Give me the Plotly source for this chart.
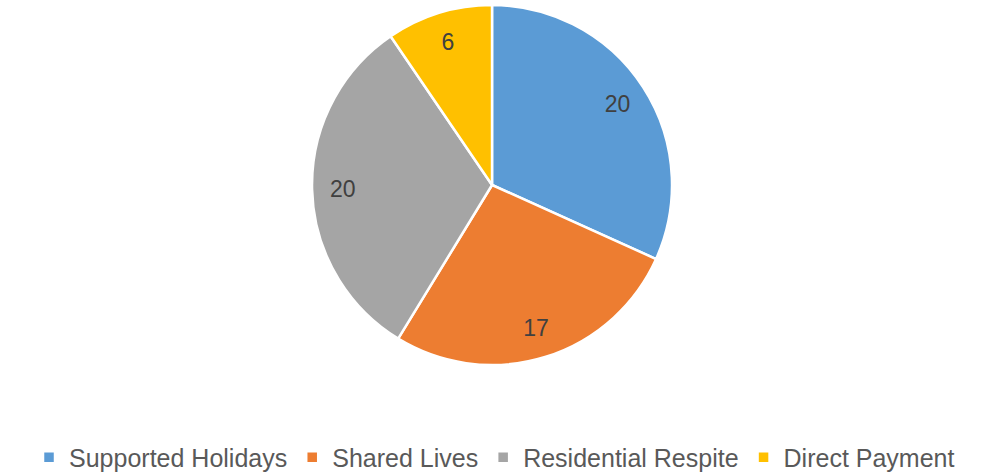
import plotly.graph_objects as go

categories = ["Supported Holidays", "Shared Lives", "Residential Respite", "Direct Payment"]
values = [20, 17, 20, 6]
colors = ["#5B9BD5", "#ED7D31", "#A5A5A5", "#FFC000"]

pie_domain = dict(x=[0.3136, 0.6754], y=[0.2283, 0.9894])

# Main pie (slices + legend)
fig = go.Figure(go.Pie(
    labels=categories,
    values=values,
    sort=False,
    direction="clockwise",
    rotation=0,
    marker=dict(colors=colors, line=dict(color="white", width=2.5)),
    textinfo="none",
    domain=pie_domain,
    hoverinfo="label+value",
))

# Transparent ring overlay used only to place the data labels near the rim
fig.add_trace(go.Pie(
    labels=categories,
    values=values,
    sort=False,
    direction="clockwise",
    rotation=0,
    hole=0.66,
    marker=dict(colors=["rgba(0,0,0,0)"] * len(values), line=dict(width=0)),
    textinfo="value",
    textposition="inside",
    insidetextorientation="horizontal",
    textfont=dict(family="Liberation Sans", size=23, color="#404040"),
    domain=pie_domain,
    showlegend=False,
    hoverinfo="skip",
))

fig.update_layout(
    width=995, height=473,
    margin=dict(l=0, r=0, t=0, b=0, autoexpand=False),
    paper_bgcolor="white",
    showlegend=True,
    legend=dict(
        orientation="h", x=0.497, xanchor="center", y=-0.016, yanchor="bottom",
        font=dict(family="Liberation Sans", size=25, color="#595959"),
        itemwidth=30,
    ),
)

fig.write_html("out.html", post_script="document.body.style.margin='0';",
               config={"displayModeBar": False})
